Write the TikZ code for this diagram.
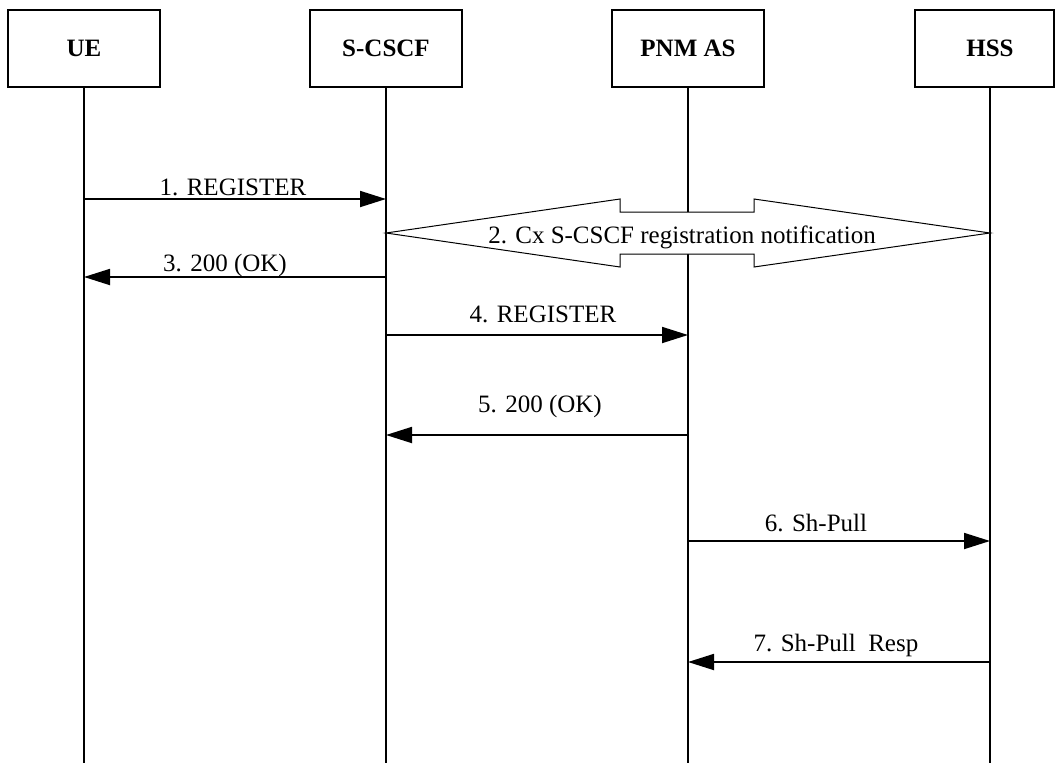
\documentclass[tikz,border=0pt]{standalone}
\usepackage{fontspec}
\setmainfont{Liberation Serif}
\usetikzlibrary{arrows.meta,calc}
\begin{document}
\begin{tikzpicture}[x=1pt,y=-1pt,
  entity/.style={draw,line width=1.6pt,minimum width=152pt,minimum height=77pt,inner sep=0pt,font=\fontsize{25}{28}\selectfont\bfseries},
  lifeline/.style={line width=1.5pt},
  msg/.style={line width=1.8pt,-{Triangle[length=26pt,width=16pt]}},
  lbl/.style={anchor=base,inner sep=0pt,font=\fontsize{25}{28}\selectfont}]
\useasboundingbox (0,0) rectangle (1055,763);
% entities
\node[entity] (ue) at (84,48.5) {UE};
\node[entity] (scscf) at (386,48.5) {S-CSCF};
\node[entity] (pnm) at (688,48.5) {PNM AS};
\node[entity,minimum width=139pt] (hss) at (984.5,48.5) {};
\node[font=\fontsize{25}{28}\selectfont\bfseries,inner sep=0pt] (hsslbl) at (990,48.5) {HSS};
% lifeline ends
\coordinate (ueT) at (84,87);
\coordinate (scT) at (386,87);
\coordinate (pnT) at (688,87);
\coordinate (hsT) at (990,87);
\coordinate (ueB) at (84,763);
\coordinate (scB) at (386,763);
\coordinate (pnB) at (688,763);
\coordinate (hsB) at (990,763);
\draw[lifeline] (ueT) -- (ueB);
\draw[lifeline] (scT) -- (scB);
\draw[lifeline] (pnT) -- (pnB);
\draw[lifeline] (hsT) -- (hsB);
% 1
\draw[msg] (ueT |- 0,199) -- (scT |- 0,199);
\node[lbl] (l1) at (233,195) {1. REGISTER};
% 2 double arrow
\coordinate (tipL) at (scT |- 0,233);
\coordinate (tipR) at (hsT |- 0,233);
\draw[line width=1pt,fill=white]
  (tipL) -- (620,199) -- (620,212) -- (754,212) -- (754,199) -- (tipR)
  -- (754,267) -- (754,254) -- (620,254) -- (620,267) -- cycle;
\node[lbl] (l2) at (682,243) {2. Cx S-CSCF registration notification};
% 3
\draw[msg] (scT |- 0,277) -- (ueT |- 0,277);
\node[lbl] (l3) at (225,271) {3. 200 (OK)};
% 4
\draw[msg] (scT |- 0,335) -- (pnT |- 0,335);
\node[lbl] (l4) at (543,322) {4. REGISTER};
% 5
\draw[msg] (pnT |- 0,435) -- (scT |- 0,435);
\node[lbl] (l5) at (540,412) {5. 200 (OK)};
% 6
\draw[msg] (pnT |- 0,541) -- (hsT |- 0,541);
\node[lbl] (l6) at (816,531) {6. Sh-Pull};
% 7
\draw[msg] (hsT |- 0,662) -- (pnT |- 0,662);
\node[lbl] (l7) at (836,651) {7. Sh-Pull\ \ Resp};
\end{tikzpicture}
\end{document}
